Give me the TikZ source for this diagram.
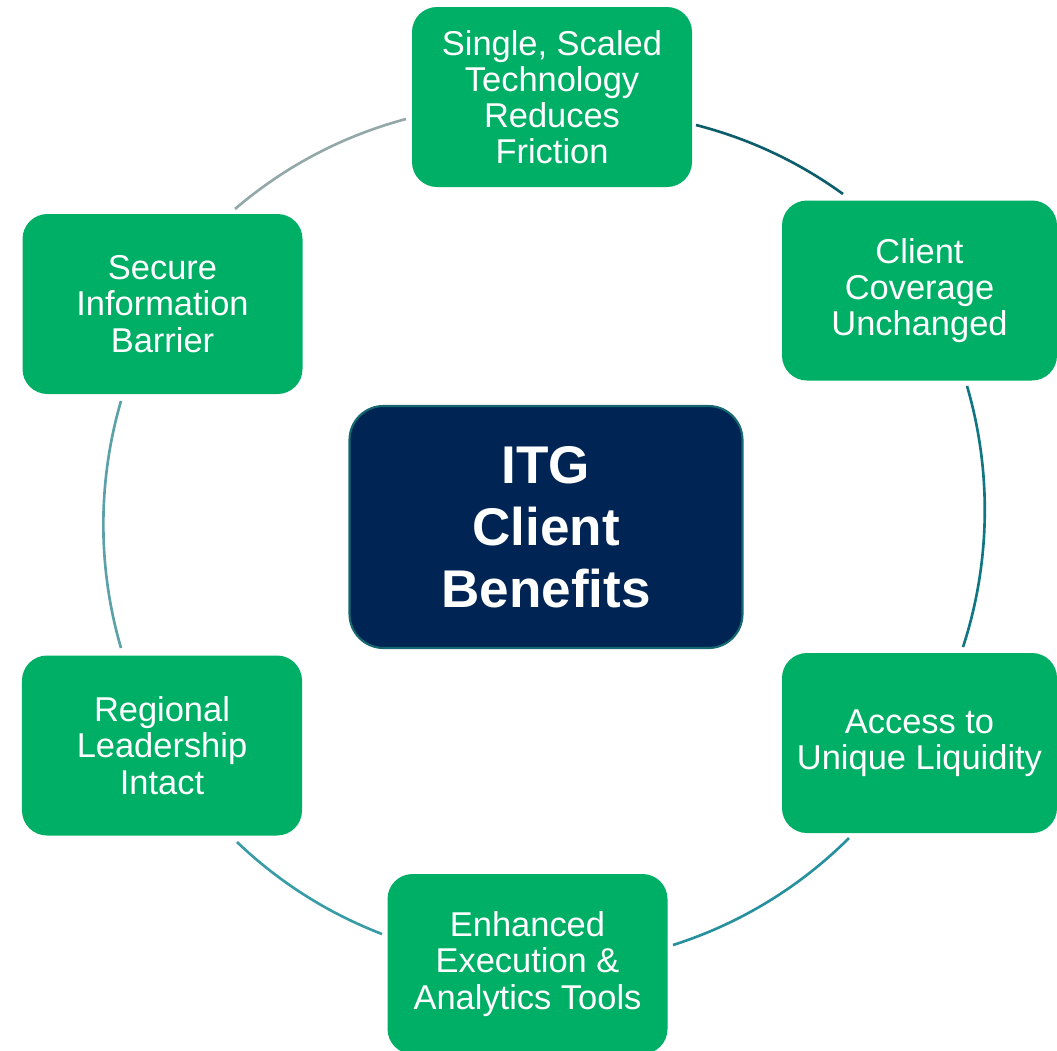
\documentclass[tikz,border=0pt]{standalone}
\usepackage{fontspec}
\setmainfont{Liberation Sans}
\usepackage{xcolor}
\definecolor{itggreen}{RGB}{0,175,102}
\definecolor{itgnavy}{RGB}{0,37,84}
\definecolor{itgedge}{RGB}{22,104,112}
\definecolor{ringA}{RGB}{148,168,170}
\definecolor{ringB}{RGB}{12,94,106}
\definecolor{ringC}{RGB}{16,118,130}
\definecolor{ringD}{RGB}{38,144,158}
\definecolor{ringE}{RGB}{56,156,166}
\definecolor{ringF}{RGB}{92,160,168}

\begin{document}
\begin{tikzpicture}
	[inner sep=0pt, align=center,
	benefit/.style={fill=itggreen, rounded corners=0.25cm, minimum width=2.8cm, minimum height=1.8cm, text=white, font=\fontsize{9.8}{10.3}\selectfont},
	edge benefit/.style={benefit, minimum width=2.75cm},
	hub/.style={draw=itgedge, line width=0.6pt, fill=itgnavy, rounded corners=0.34cm, minimum width=3.93cm, minimum height=2.42cm, text=white, font=\bfseries\fontsize{15.1}{17.7}\selectfont},
	ring/.style={line width=0.75pt, looseness=0.87}]

	\useasboundingbox (0,0) rectangle (10.57,-10.50);

	\node[hub]          (itg_benefits) at (5.46,-5.27)   {ITG\\Client\\Benefits};

	\node[benefit]      (technology)   at (5.52,-0.97)   {Single, Scaled\\Technology\\Reduces\\Friction};
	\node[edge benefit] (coverage)     at (9.195,-2.905) {Client\\Coverage\\Unchanged};
	\node[edge benefit] (liquidity)    at (9.195,-7.43)  {Access to\\Unique Liquidity};
	\node[benefit]      (tools)        at (5.275,-9.64)  {Enhanced\\Execution \&\\Analytics Tools};
	\node[benefit]      (leadership)   at (1.62,-7.455)  {Regional\\Leadership\\Intact};
	\node[benefit]      (barrier)      at (1.625,-3.04)  {Secure\\Information\\Barrier};

	\coordinate (barrier_out)    at (2.35,-2.09);
	\coordinate (technology_in)  at (4.06,-1.19);
	\coordinate (technology_out) at (6.96,-1.25);
	\coordinate (coverage_in)    at (8.43,-1.94);
	\coordinate (coverage_out)   at (9.67,-3.86);
	\coordinate (liquidity_in)   at (9.63,-6.47);
	\coordinate (liquidity_out)  at (8.49,-8.38);
	\coordinate (tools_in)       at (6.73,-9.45);
	\coordinate (tools_out)      at (3.82,-9.34);
	\coordinate (leadership_in)  at (2.37,-8.42);
	\coordinate (leadership_out) at (1.21,-6.48);
	\coordinate (barrier_in)     at (1.21,-4.01);

	\draw [ring, ringA] (barrier_out)    to[bend left=12.8] (technology_in);
	\draw [ring, ringB] (technology_out) to[bend left=10.7] (coverage_in);
	\draw [ring, ringC] (coverage_out)   to[bend left=17.2] (liquidity_in);
	\draw [ring, ringD] (liquidity_out)  to[bend left=13.6] (tools_in);
	\draw [ring, ringE] (tools_out)      to[bend left=11.3] (leadership_in);
	\draw [ring, ringF] (leadership_out) to[bend left=16.3] (barrier_in);
\end{tikzpicture}
\end{document}
